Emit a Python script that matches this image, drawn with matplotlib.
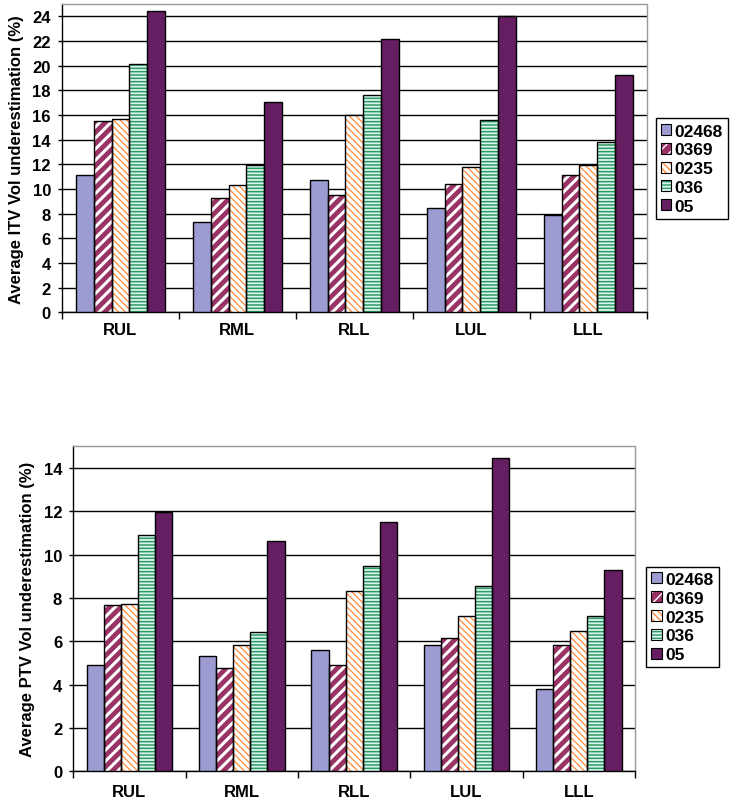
import matplotlib
matplotlib.use("Agg")
import matplotlib.pyplot as plt
from matplotlib.patches import Patch
import numpy as np

plt.rcParams['font.family'] = ['Liberation Sans', 'DejaVu Sans']

categories = ["RUL", "RML", "RLL", "LUL", "LLL"]
series_names = ["02468", "0369", "0235", "036", "05"]

itv_02468 = [11.15, 7.35, 10.7, 8.45, 7.9]
itv_0369 = [15.55, 9.3, 9.5, 10.4, 11.1]
itv_0235 = [15.7, 10.3, 16.0, 11.8, 11.95]
itv_036 = [20.1, 11.95, 17.65, 15.6, 13.85]
itv_05 = [24.4, 17.05, 22.15, 24.0, 19.25]

ptv_02468 = [4.93, 5.31, 5.59, 5.81, 3.80]
ptv_0369 = [7.67, 4.76, 4.90, 6.15, 5.81]
ptv_0235 = [7.72, 5.82, 8.33, 7.16, 6.48]
ptv_036 = [10.9, 6.42, 9.50, 8.56, 7.15]
ptv_05 = [11.97, 10.63, 11.52, 14.48, 9.29]

# style: (facecolor, hatch, hatchcolor, hatch linewidth)
styles = [
    ("#9C9CD2", None, "#9C9CD2", 1.0),
    ("#993366", "///", "white", 2.2),
    ("white", "\\\\\\\\\\", "#FF8C3A", 0.9),
    ("#D8F4F4", "-----", "#2E9A5C", 1.1),
    ("#651E62", None, "#651E62", 1.0),
]

fig = plt.figure(figsize=(7.31, 8.04), dpi=100)


def set_hlw(p, hlw):
    try:
        p.set_hatch_linewidth(hlw)
    except Exception:
        pass


def draw_chart(ax, data, ymax, yticks, ylabel, xpad):
    n = len(data)
    bw = 0.152
    x = np.arange(len(categories))
    for i, (vals, st) in enumerate(zip(data, styles)):
        fc, hatch, hc, hlw = st
        pos = x + (i - (n - 1) / 2) * bw
        bars = ax.bar(pos, vals, bw, facecolor=fc, edgecolor=hc, linewidth=0,
                      hatch=hatch, zorder=3)
        for b in bars:
            set_hlw(b, hlw)
        ax.bar(pos, vals, bw, fill=False, edgecolor="black", linewidth=1.0,
               zorder=4)
    ax.set_xlim(-0.5, len(categories) - 0.5)
    ax.set_ylim(0, ymax)
    ax.set_yticks(yticks)
    ax.set_yticklabels([str(t) for t in yticks], fontweight="bold", fontsize=12)
    ax.yaxis.grid(True, color="black", linewidth=1.0, zorder=1)
    ax.set_axisbelow(True)
    ax.set_xticks(np.arange(len(categories) + 1) - 0.5)
    ax.set_xticklabels([])
    ax.set_xticks(np.arange(len(categories)), minor=True)
    ax.set_xticklabels(categories, minor=True, fontweight="bold", fontsize=12)
    ax.tick_params(axis="x", which="major", length=5, width=1, direction="out")
    ax.tick_params(axis="x", which="minor", length=0, pad=xpad)
    ax.tick_params(axis="y", length=3, width=1, direction="out", pad=5)
    for s in ["top", "right"]:
        ax.spines[s].set_color("#999999")
        ax.spines[s].set_linestyle((0, (1, 1)))
        ax.spines[s].set_linewidth(1.0)
    for s in ["left", "bottom"]:
        ax.spines[s].set_color("black")
        ax.spines[s].set_linewidth(1.0)
    ax.set_ylabel(ylabel, fontweight="bold", fontsize=12, labelpad=6)


def make_legend(anchor):
    handles = []
    for name, st in zip(series_names, styles):
        fc, hatch, hc, hlw = st
        p1 = Patch(facecolor=fc, edgecolor=hc, hatch=hatch, linewidth=0)
        set_hlw(p1, min(hlw, 1.2))
        p2 = Patch(fill=False, edgecolor="black", linewidth=0.8)
        handles.append((p1, p2))
    leg = fig.legend(handles=handles, labels=series_names, loc="upper left",
                     bbox_to_anchor=anchor,
                     bbox_transform=fig.transFigure, borderaxespad=0,
                     fancybox=False, framealpha=1, edgecolor="black",
                     handlelength=0.6, handleheight=0.6, handletextpad=0.2,
                     labelspacing=0.22, borderpad=0.3,
                     prop={"weight": "bold", "size": 12.5})
    leg.get_frame().set_linewidth(1.0)


ax1 = fig.add_axes([0.0848, 0.6103, 0.7999, 0.3835])
draw_chart(ax1, [itv_02468, itv_0369, itv_0235, itv_036, itv_05], 25,
           list(range(0, 25, 2)), "Average ITV Vol underestimation (%)", 7)

ax2 = fig.add_axes([0.1003, 0.0394, 0.7684, 0.4042])
draw_chart(ax2, [ptv_02468, ptv_0369, ptv_0235, ptv_036, ptv_05], 15,
           list(range(0, 15, 2)), "Average PTV Vol underestimation (%)", 9)

make_legend((0.897, 0.8516))
make_legend((0.8837, 0.2939))

fig.savefig("out.png", dpi=100)
